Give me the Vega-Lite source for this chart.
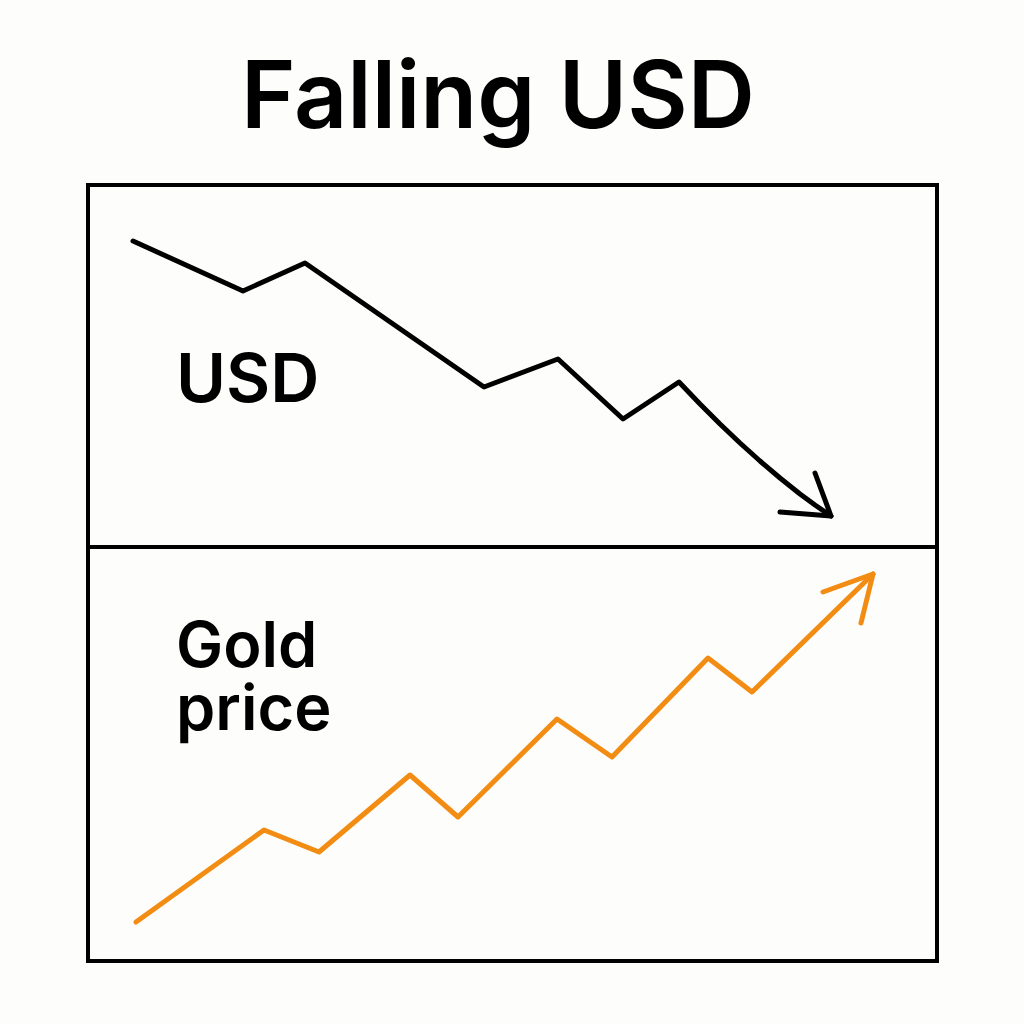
{
  "$schema": "https://vega.github.io/schema/vega-lite/v6.json",
  "width": 1024,
  "height": 1024,
  "autosize": {"type": "fit", "contains": "padding"},
  "padding": 0,
  "background": "#fdfdfb",
  "config": {"view": {"stroke": null}},
  "datasets": {
    "panels": [
      {"panel": "USD", "x0": 88, "x1": 937, "y0": 185, "y1": 547},
      {"panel": "Gold price", "x0": 88, "x1": 937, "y0": 547, "y1": 961}
    ],
    "lines": [
      {"series": "USD", "part": "usd_line", "i": 1, "x": 133, "y": 241},
      {"series": "USD", "part": "usd_line", "i": 2, "x": 243, "y": 291},
      {"series": "USD", "part": "usd_line", "i": 3, "x": 305, "y": 263},
      {"series": "USD", "part": "usd_line", "i": 4, "x": 484, "y": 387},
      {"series": "USD", "part": "usd_line", "i": 5, "x": 558, "y": 359},
      {"series": "USD", "part": "usd_line", "i": 6, "x": 623, "y": 419},
      {"series": "USD", "part": "usd_line", "i": 7, "x": 679, "y": 382},
      {"series": "USD", "part": "usd_line", "i": 8, "x": 700, "y": 404},
      {"series": "USD", "part": "usd_line", "i": 9, "x": 720, "y": 424},
      {"series": "USD", "part": "usd_line", "i": 10, "x": 740, "y": 443},
      {"series": "USD", "part": "usd_line", "i": 11, "x": 760, "y": 461},
      {"series": "USD", "part": "usd_line", "i": 12, "x": 780, "y": 478},
      {"series": "USD", "part": "usd_line", "i": 13, "x": 800, "y": 494},
      {"series": "USD", "part": "usd_line", "i": 14, "x": 815, "y": 505},
      {"series": "USD", "part": "usd_line", "i": 15, "x": 831, "y": 516},
      {"series": "USD", "part": "usd_arrow", "i": 1, "x": 815, "y": 473},
      {"series": "USD", "part": "usd_arrow", "i": 2, "x": 831, "y": 516},
      {"series": "USD", "part": "usd_arrow", "i": 3, "x": 780, "y": 512},
      {"series": "Gold price", "part": "gold_line", "i": 1, "x": 136, "y": 922},
      {"series": "Gold price", "part": "gold_line", "i": 2, "x": 264, "y": 830},
      {"series": "Gold price", "part": "gold_line", "i": 3, "x": 319, "y": 852},
      {"series": "Gold price", "part": "gold_line", "i": 4, "x": 410, "y": 775},
      {"series": "Gold price", "part": "gold_line", "i": 5, "x": 458, "y": 817},
      {"series": "Gold price", "part": "gold_line", "i": 6, "x": 557, "y": 719},
      {"series": "Gold price", "part": "gold_line", "i": 7, "x": 612, "y": 757},
      {"series": "Gold price", "part": "gold_line", "i": 8, "x": 708, "y": 658},
      {"series": "Gold price", "part": "gold_line", "i": 9, "x": 752, "y": 692},
      {"series": "Gold price", "part": "gold_line", "i": 10, "x": 873, "y": 574},
      {"series": "Gold price", "part": "gold_arrow", "i": 1, "x": 823, "y": 592},
      {"series": "Gold price", "part": "gold_arrow", "i": 2, "x": 873, "y": 574},
      {"series": "Gold price", "part": "gold_arrow", "i": 3, "x": 861, "y": 623}
    ]
  },
  "encoding": {
    "x": {"type": "quantitative", "scale": {"domain": [0, 1024], "nice": false, "zero": false}, "axis": null},
    "y": {"type": "quantitative", "scale": {"domain": [0, 1024], "nice": false, "zero": false, "reverse": true}, "axis": null}
  },
  "layer": [
    {
      "data": {"name": "panels"},
      "mark": {"type": "rect", "fill": "transparent", "stroke": "#000000", "strokeWidth": 4},
      "encoding": {
        "x": {"field": "x0", "type": "quantitative"},
        "x2": {"field": "x1"},
        "y": {"field": "y0", "type": "quantitative"},
        "y2": {"field": "y1"}
      }
    },
    {
      "data": {"name": "lines"},
      "mark": {"type": "line", "strokeWidth": 5, "strokeCap": "round", "strokeJoin": "round"},
      "encoding": {
        "x": {"field": "x", "type": "quantitative"},
        "y": {"field": "y", "type": "quantitative"},
        "detail": {"field": "part"},
        "order": {"field": "i"},
        "color": {
          "field": "series",
          "type": "nominal",
          "scale": {"domain": ["USD", "Gold price"], "range": ["#000000", "#f28c12"]},
          "legend": null
        }
      }
    },
    {
      "data": {"values": [{"text": "Falling USD", "x": 498, "y": 128}]},
      "mark": {"type": "text", "align": "center", "baseline": "alphabetic", "font": "Inter", "fontWeight": 600, "fontSize": 93, "color": "#000000"},
      "encoding": {
        "x": {"field": "x", "type": "quantitative"},
        "y": {"field": "y", "type": "quantitative"},
        "text": {"field": "text"}
      }
    },
    {
      "data": {"values": [{"text": "USD", "x": 176, "y": 402}]},
      "mark": {"type": "text", "align": "left", "baseline": "alphabetic", "font": "Inter", "fontWeight": 600, "fontSize": 68, "color": "#000000"},
      "encoding": {
        "x": {"field": "x", "type": "quantitative"},
        "y": {"field": "y", "type": "quantitative"},
        "text": {"field": "text"}
      }
    },
    {
      "data": {"values": [{"text": "Gold\nprice", "x": 176, "y": 667}]},
      "mark": {"type": "text", "align": "left", "baseline": "alphabetic", "lineBreak": "\n", "lineHeight": 63, "font": "Inter", "fontWeight": 600, "fontSize": 63, "color": "#000000"},
      "encoding": {
        "x": {"field": "x", "type": "quantitative"},
        "y": {"field": "y", "type": "quantitative"},
        "text": {"field": "text"}
      }
    }
  ]
}
